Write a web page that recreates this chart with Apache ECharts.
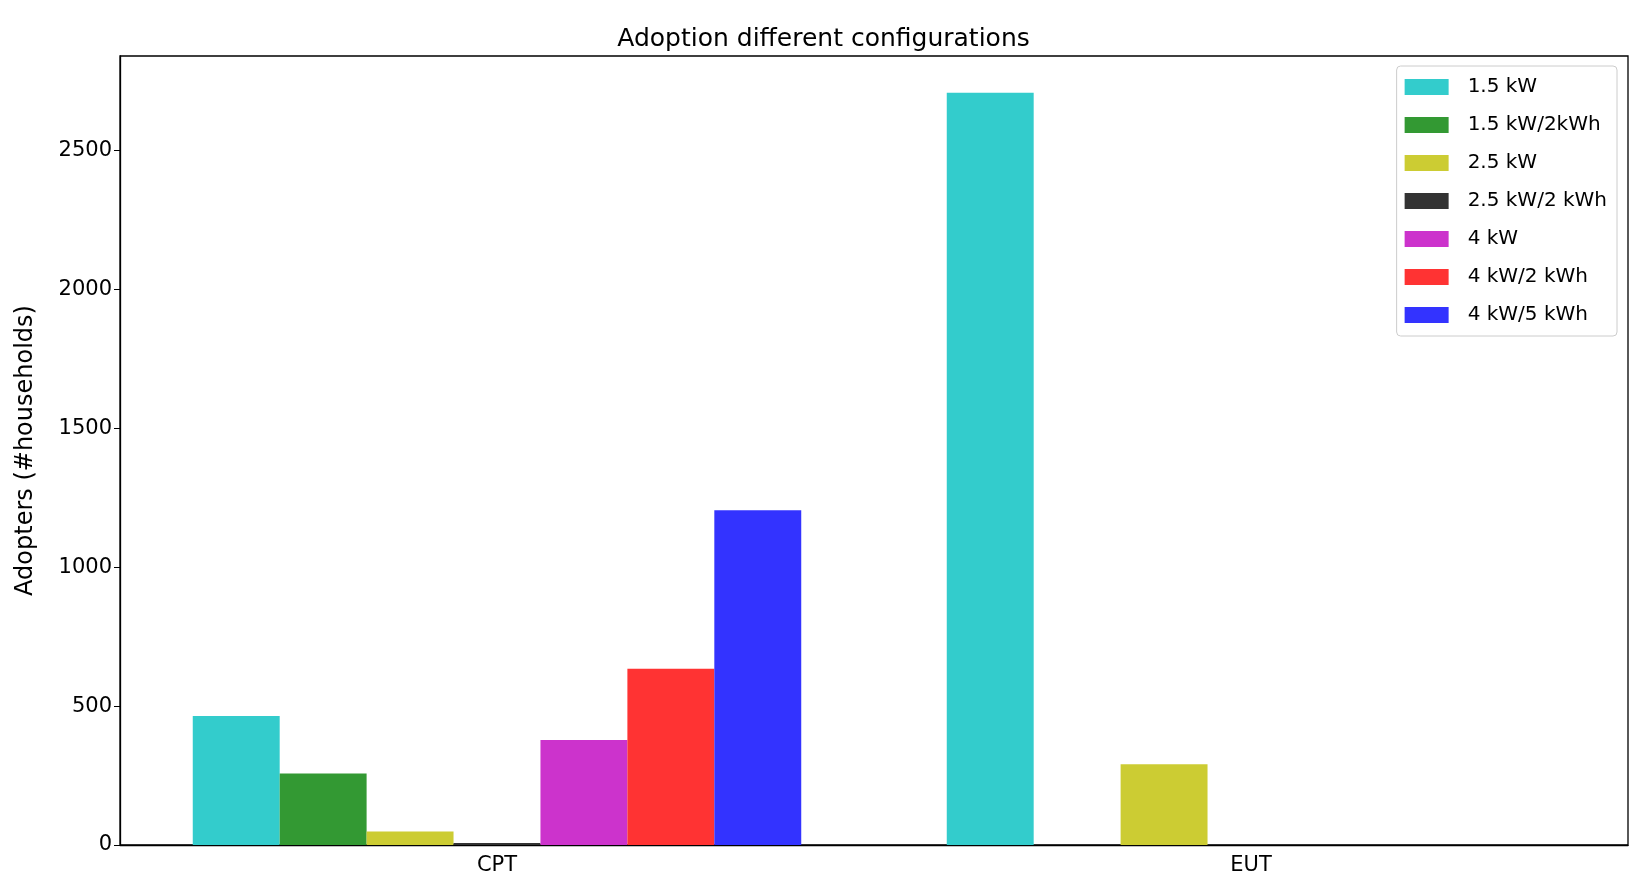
<!DOCTYPE html>
<html><head><meta charset="utf-8">
<script src="https://cdn.jsdelivr.net/npm/echarts@6/dist/echarts.min.js"></script>
<style>html,body{margin:0;padding:0;background:#fff}#c{width:1647px;height:886px}</style>
</head><body><div id="c"></div>
<script>
const categories = ['CPT', 'EUT'];
const seriesNames = ['1.5 kW', '1.5 kW/2kWh', '2.5 kW', '2.5 kW/2 kWh', '4 kW', '4 kW/2 kWh', '4 kW/5 kWh'];
const seriesValues = [
  [464, 2708],
  [257, 0],
  [49, 291],
  [7, 0],
  [378, 0],
  [634, 0],
  [1205, 0]
];
const colors = ['#33cccc', '#339933', '#cccc33', '#333333', '#cc33cc', '#ff3333', '#3333ff'];
const chart = echarts.init(document.getElementById('c'));
const font = 'DejaVu Sans';
chart.setOption({
  animation: false,
  textStyle: { fontFamily: font },
  title: { text: 'Adoption different configurations', left: 'center', top: 22,
    textStyle: { fontFamily: font, fontSize: 25, fontWeight: 'normal', color: '#000' } },
  grid: { left: 120, right: 19, top: 56, bottom: 41, show: true, borderColor: '#000', borderWidth: 1.3 },
  legend: {
    orient: 'vertical', right: 30, top: 66, itemWidth: 44, itemHeight: 16, itemGap: 18,
    padding: [11, 10, 11, 8], borderColor: '#ccc', borderWidth: 1, borderRadius: 4,
    textStyle: { fontFamily: font, fontSize: 20, color: '#000', padding: [0, 0, 0, 14] },
    data: seriesNames.map(n => ({ name: n, icon: 'rect' }))
  },
  xAxis: {
    type: 'category', data: categories,
    axisLine: { lineStyle: { color: '#000', width: 1.3 } },
    axisTick: { alignWithLabel: true, lineStyle: { color: '#000' }, length: 6 },
    axisLabel: { fontSize: 21, color: '#000', margin: 10, fontFamily: font }
  },
  yAxis: {
    type: 'value', min: 0, max: 2840, interval: 500,
    name: 'Adopters (#households)', nameLocation: 'middle', nameGap: 82,
    nameTextStyle: { fontSize: 24, color: '#000', fontFamily: font },
    splitLine: { show: false },
    axisLine: { show: true, lineStyle: { color: '#000', width: 1.3 } },
    axisTick: { show: true, lineStyle: { color: '#000' }, length: 6 },
    axisLabel: { fontSize: 21, color: '#000', fontFamily: font, showMaxLabel: false,
      formatter: v => (v % 500 === 0 ? String(v) : '') }
  },
  series: seriesNames.map((n, i) => ({
    name: n, type: 'bar', data: seriesValues[i], barGap: '0%', barCategoryGap: '19.3%',
    itemStyle: { color: colors[i] }
  }))
});
</script></body></html>
